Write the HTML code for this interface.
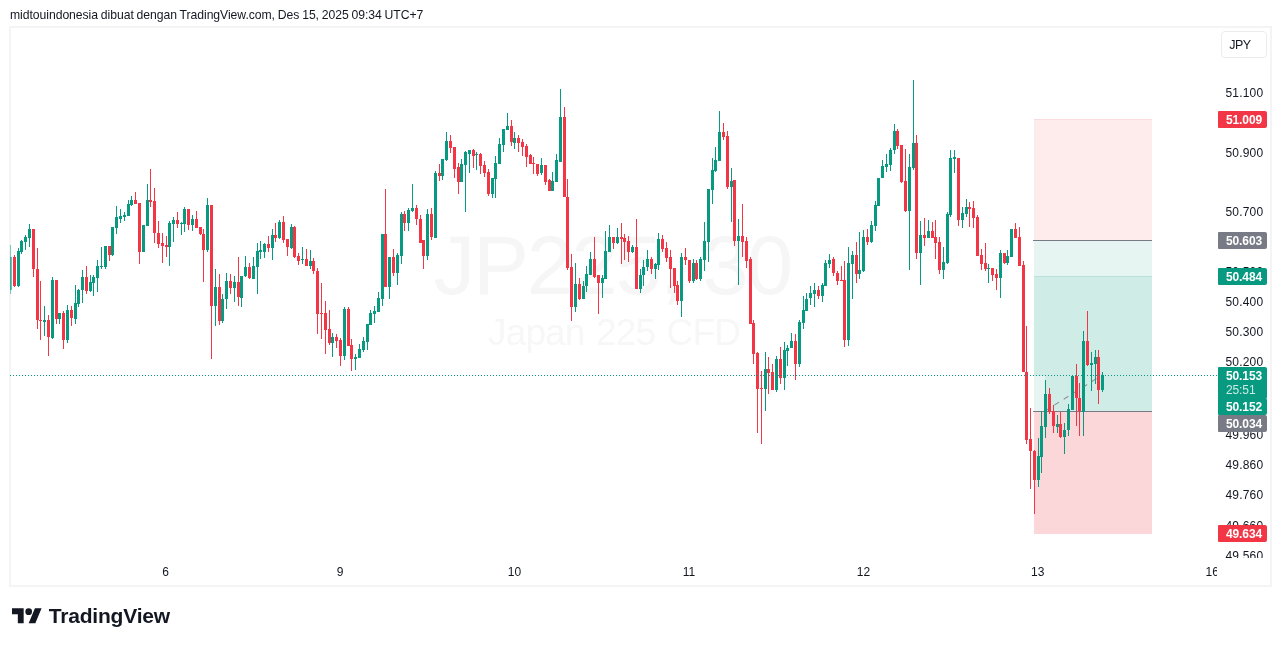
<!DOCTYPE html>
<html><head><meta charset="utf-8"><title>JP225 chart</title>
<style>
html,body{margin:0;padding:0;background:#fff;}
body{width:1281px;height:646px;position:relative;overflow:hidden;font-family:"Liberation Sans",sans-serif;color:#131722;}
.hdr{position:absolute;left:10px;top:7.1px;font-size:12.2px;line-height:16px;white-space:nowrap;color:#131722;letter-spacing:-0.05px;word-spacing:-0.5px;}
.frame{position:absolute;left:9px;top:26px;width:1263px;height:561px;box-sizing:border-box;border:2px solid #f4f4f4;}
.wm1{position:absolute;left:433.5px;top:218.2px;font-size:83.5px;line-height:94px;color:#f6f6f6;white-space:nowrap;letter-spacing:-2.05px;}
.wm2{position:absolute;left:488px;top:312.3px;font-size:37px;line-height:42px;color:#f7f7f7;white-space:nowrap;letter-spacing:-0.85px;word-spacing:2px;}
#root{position:absolute;left:0;top:0;width:1281px;height:646px;will-change:transform;}
svg.ch{position:absolute;left:0;top:0;}
.axis{position:absolute;left:1217px;top:28px;width:53px;height:530px;overflow:hidden;}
.pl{position:absolute;left:8.4px;width:53px;text-align:left;letter-spacing:0.2px;font-size:12px;line-height:16px;height:16px;color:#131722;white-space:nowrap;}
.axis .pl{margin-top:-28px;}
.tag{position:absolute;left:1218px;width:49px;height:17px;border-radius:1px 2px 2px 1px;color:#fff;font-weight:bold;font-size:12px;line-height:17px;text-align:left;box-sizing:border-box;padding-top:1.3px;padding-left:8px;letter-spacing:-0.12px;overflow:hidden;white-space:nowrap;}
.taxis{position:absolute;left:11px;top:558px;width:1206px;height:27px;overflow:hidden;}
.tl{position:absolute;top:6px;width:40px;margin-left:-11px;text-align:center;font-size:12px;line-height:16px;color:#131722;}
.jpy{position:absolute;left:1221px;top:31px;width:46px;height:27px;box-sizing:border-box;border:1px solid #ececec;border-radius:4px;font-size:12.5px;line-height:27px;text-align:center;color:#131722;padding-right:8px;letter-spacing:-0.5px;}
.logo{position:absolute;left:12px;top:604.67px;}
.tv{position:absolute;left:48.8px;top:603.6px;font-size:21px;line-height:24px;font-weight:bold;color:#131722;white-space:nowrap;letter-spacing:-0.2px;}
</style></head><body><div id="root">
<div class="hdr">midtouindonesia dibuat dengan TradingView.com, Des 15, 2025 09:34 UTC+7</div>
<div class="frame"></div>
<div class="wm1">JP225, 30</div>
<div class="wm2">Japan 225 CFD</div>
<div class="axis">
<div class="pl" style="top:85.1px">51.100</div>
<div class="pl" style="top:144.5px">50.900</div>
<div class="pl" style="top:204.0px">50.700</div>
<div class="pl" style="top:263.9px">50.500</div>
<div class="pl" style="top:293.9px">50.400</div>
<div class="pl" style="top:323.9px">50.300</div>
<div class="pl" style="top:354.0px">50.200</div>
<div class="pl" style="top:426.6px">49.960</div>
<div class="pl" style="top:456.9px">49.860</div>
<div class="pl" style="top:487.3px">49.760</div>
<div class="pl" style="top:517.7px">49.660</div>
<div class="pl" style="top:548.2px">49.560</div>
</div>
<svg class="ch" width="1281" height="646" viewBox="0 0 1281 646" shape-rendering="crispEdges">
<rect x="1034" y="119" width="118" height="121" fill="#feebec"/>
<rect x="1034" y="240" width="118" height="36" fill="#e6f5f2"/>
<rect x="1034" y="276" width="118" height="135" fill="#d0ece7"/>
<rect x="1034" y="376" width="11" height="35" fill="#e6f5f2"/>
<rect x="1034" y="411" width="118" height="123" fill="#fcd7da"/>
<rect x="1034" y="276" width="118" height="1" fill="#b9e2da"/>
<rect x="1034" y="119" width="118" height="1" fill="#fbdcdf"/>
<rect x="1033" y="240" width="119" height="1" fill="#787b86"/>
<rect x="1033" y="411" width="119" height="1" fill="#787b86"/>
<line x1="1045.5" y1="410.7" x2="1102.5" y2="374.8" stroke="#8f929c" stroke-width="1.1" stroke-dasharray="5.55 5.55" stroke-dashoffset="0.7" shape-rendering="auto"/>
<rect x="10" y="245" width="1" height="49" fill="#089981" opacity="0.5"/>
<rect x="10" y="257" width="2" height="33" fill="#089981" opacity="0.6"/>
<rect x="14" y="255" width="1" height="32" fill="#f23645"/>
<rect x="13" y="257" width="3" height="29" fill="#f23645"/>
<rect x="18" y="248" width="1" height="39" fill="#089981"/>
<rect x="17" y="251" width="3" height="35" fill="#089981"/>
<rect x="21" y="240" width="1" height="14" fill="#089981"/>
<rect x="20" y="241" width="3" height="11" fill="#089981"/>
<rect x="25" y="235" width="1" height="15" fill="#089981"/>
<rect x="24" y="237" width="3" height="5" fill="#089981"/>
<rect x="29" y="224" width="1" height="23" fill="#089981"/>
<rect x="28" y="229" width="3" height="9" fill="#089981"/>
<rect x="33" y="229" width="1" height="48" fill="#f23645"/>
<rect x="32" y="229" width="3" height="40" fill="#f23645"/>
<rect x="37" y="248" width="1" height="81" fill="#f23645"/>
<rect x="36" y="269" width="3" height="51" fill="#f23645"/>
<rect x="40" y="281" width="1" height="59" fill="#f23645"/>
<rect x="39" y="320" width="3" height="1" fill="#f23645"/>
<rect x="44" y="306" width="1" height="30" fill="#089981"/>
<rect x="43" y="320" width="3" height="2" fill="#089981"/>
<rect x="48" y="315" width="1" height="41" fill="#f23645"/>
<rect x="47" y="320" width="3" height="17" fill="#f23645"/>
<rect x="52" y="277" width="1" height="62" fill="#089981"/>
<rect x="51" y="280" width="3" height="58" fill="#089981"/>
<rect x="56" y="280" width="1" height="44" fill="#f23645"/>
<rect x="55" y="280" width="3" height="39" fill="#f23645"/>
<rect x="59" y="313" width="1" height="11" fill="#089981"/>
<rect x="58" y="313" width="3" height="6" fill="#089981"/>
<rect x="63" y="311" width="1" height="38" fill="#f23645"/>
<rect x="62" y="313" width="3" height="27" fill="#f23645"/>
<rect x="67" y="305" width="1" height="38" fill="#089981"/>
<rect x="66" y="310" width="3" height="30" fill="#089981"/>
<rect x="71" y="306" width="1" height="20" fill="#f23645"/>
<rect x="70" y="310" width="3" height="8" fill="#f23645"/>
<rect x="75" y="285" width="1" height="39" fill="#089981"/>
<rect x="74" y="303" width="3" height="16" fill="#089981"/>
<rect x="78" y="289" width="1" height="18" fill="#089981"/>
<rect x="77" y="290" width="3" height="14" fill="#089981"/>
<rect x="82" y="270" width="1" height="33" fill="#089981"/>
<rect x="81" y="277" width="3" height="13" fill="#089981"/>
<rect x="86" y="266" width="1" height="28" fill="#f23645"/>
<rect x="85" y="277" width="3" height="14" fill="#f23645"/>
<rect x="90" y="275" width="1" height="17" fill="#089981"/>
<rect x="89" y="282" width="3" height="9" fill="#089981"/>
<rect x="93" y="275" width="1" height="21" fill="#089981"/>
<rect x="92" y="277" width="3" height="6" fill="#089981"/>
<rect x="97" y="260" width="1" height="32" fill="#089981"/>
<rect x="96" y="266" width="3" height="12" fill="#089981"/>
<rect x="101" y="247" width="1" height="22" fill="#089981"/>
<rect x="100" y="266" width="3" height="1" fill="#089981"/>
<rect x="105" y="246" width="1" height="23" fill="#089981"/>
<rect x="104" y="246" width="3" height="21" fill="#089981"/>
<rect x="109" y="246" width="1" height="15" fill="#f23645"/>
<rect x="108" y="246" width="3" height="9" fill="#f23645"/>
<rect x="112" y="227" width="1" height="29" fill="#089981"/>
<rect x="111" y="227" width="3" height="28" fill="#089981"/>
<rect x="116" y="206" width="1" height="28" fill="#089981"/>
<rect x="115" y="217" width="3" height="11" fill="#089981"/>
<rect x="120" y="209" width="1" height="14" fill="#089981"/>
<rect x="119" y="216" width="3" height="3" fill="#089981"/>
<rect x="124" y="212" width="1" height="9" fill="#089981"/>
<rect x="123" y="215" width="3" height="2" fill="#089981"/>
<rect x="128" y="200" width="1" height="16" fill="#089981"/>
<rect x="127" y="204" width="3" height="12" fill="#089981"/>
<rect x="131" y="196" width="1" height="10" fill="#089981"/>
<rect x="130" y="200" width="3" height="5" fill="#089981"/>
<rect x="135" y="192" width="1" height="12" fill="#f23645"/>
<rect x="134" y="200" width="3" height="4" fill="#f23645"/>
<rect x="139" y="203" width="1" height="61" fill="#f23645"/>
<rect x="138" y="203" width="3" height="49" fill="#f23645"/>
<rect x="142" y="225" width="3" height="27" fill="#089981"/>
<rect x="147" y="184" width="1" height="42" fill="#089981"/>
<rect x="146" y="200" width="3" height="26" fill="#089981"/>
<rect x="150" y="169" width="1" height="38" fill="#f23645"/>
<rect x="149" y="200" width="3" height="2" fill="#f23645"/>
<rect x="154" y="188" width="1" height="55" fill="#f23645"/>
<rect x="153" y="201" width="3" height="32" fill="#f23645"/>
<rect x="158" y="221" width="1" height="27" fill="#f23645"/>
<rect x="157" y="233" width="3" height="11" fill="#f23645"/>
<rect x="162" y="233" width="1" height="30" fill="#f23645"/>
<rect x="161" y="243" width="3" height="3" fill="#f23645"/>
<rect x="166" y="236" width="1" height="21" fill="#f23645"/>
<rect x="165" y="245" width="3" height="2" fill="#f23645"/>
<rect x="169" y="221" width="1" height="45" fill="#089981"/>
<rect x="168" y="223" width="3" height="24" fill="#089981"/>
<rect x="173" y="217" width="1" height="25" fill="#089981"/>
<rect x="172" y="220" width="3" height="4" fill="#089981"/>
<rect x="177" y="212" width="1" height="16" fill="#f23645"/>
<rect x="176" y="220" width="3" height="4" fill="#f23645"/>
<rect x="181" y="222" width="1" height="13" fill="#089981"/>
<rect x="180" y="223" width="3" height="1" fill="#089981"/>
<rect x="184" y="207" width="1" height="25" fill="#089981"/>
<rect x="183" y="209" width="3" height="15" fill="#089981"/>
<rect x="188" y="209" width="1" height="21" fill="#f23645"/>
<rect x="187" y="209" width="3" height="16" fill="#f23645"/>
<rect x="192" y="215" width="1" height="16" fill="#089981"/>
<rect x="191" y="219" width="3" height="6" fill="#089981"/>
<rect x="196" y="211" width="1" height="17" fill="#f23645"/>
<rect x="195" y="219" width="3" height="9" fill="#f23645"/>
<rect x="200" y="227" width="1" height="8" fill="#f23645"/>
<rect x="199" y="227" width="3" height="7" fill="#f23645"/>
<rect x="203" y="229" width="1" height="53" fill="#f23645"/>
<rect x="202" y="234" width="3" height="16" fill="#f23645"/>
<rect x="207" y="198" width="1" height="54" fill="#089981"/>
<rect x="206" y="205" width="3" height="45" fill="#089981"/>
<rect x="211" y="205" width="1" height="154" fill="#f23645"/>
<rect x="210" y="205" width="3" height="101" fill="#f23645"/>
<rect x="215" y="269" width="1" height="57" fill="#089981"/>
<rect x="214" y="287" width="3" height="19" fill="#089981"/>
<rect x="219" y="274" width="1" height="51" fill="#f23645"/>
<rect x="218" y="287" width="3" height="34" fill="#f23645"/>
<rect x="222" y="294" width="1" height="29" fill="#089981"/>
<rect x="221" y="299" width="3" height="22" fill="#089981"/>
<rect x="226" y="273" width="1" height="36" fill="#089981"/>
<rect x="225" y="281" width="3" height="18" fill="#089981"/>
<rect x="230" y="274" width="1" height="20" fill="#f23645"/>
<rect x="229" y="281" width="3" height="7" fill="#f23645"/>
<rect x="234" y="276" width="1" height="26" fill="#089981"/>
<rect x="233" y="282" width="3" height="6" fill="#089981"/>
<rect x="238" y="257" width="1" height="49" fill="#f23645"/>
<rect x="237" y="282" width="3" height="15" fill="#f23645"/>
<rect x="241" y="276" width="1" height="31" fill="#089981"/>
<rect x="240" y="276" width="3" height="22" fill="#089981"/>
<rect x="245" y="256" width="1" height="21" fill="#089981"/>
<rect x="244" y="267" width="3" height="9" fill="#089981"/>
<rect x="249" y="263" width="1" height="16" fill="#f23645"/>
<rect x="248" y="267" width="3" height="11" fill="#f23645"/>
<rect x="253" y="257" width="1" height="22" fill="#089981"/>
<rect x="252" y="266" width="3" height="13" fill="#089981"/>
<rect x="257" y="243" width="1" height="51" fill="#089981"/>
<rect x="256" y="251" width="3" height="16" fill="#089981"/>
<rect x="260" y="241" width="1" height="18" fill="#089981"/>
<rect x="259" y="250" width="3" height="2" fill="#089981"/>
<rect x="264" y="243" width="1" height="15" fill="#089981"/>
<rect x="263" y="244" width="3" height="8" fill="#089981"/>
<rect x="268" y="236" width="1" height="16" fill="#f23645"/>
<rect x="267" y="244" width="3" height="4" fill="#f23645"/>
<rect x="272" y="229" width="1" height="31" fill="#089981"/>
<rect x="271" y="235" width="3" height="13" fill="#089981"/>
<rect x="275" y="223" width="1" height="19" fill="#f23645"/>
<rect x="274" y="235" width="3" height="3" fill="#f23645"/>
<rect x="279" y="220" width="1" height="19" fill="#089981"/>
<rect x="278" y="222" width="3" height="16" fill="#089981"/>
<rect x="283" y="216" width="1" height="27" fill="#f23645"/>
<rect x="282" y="222" width="3" height="18" fill="#f23645"/>
<rect x="287" y="239" width="1" height="17" fill="#f23645"/>
<rect x="286" y="239" width="3" height="8" fill="#f23645"/>
<rect x="291" y="224" width="1" height="25" fill="#089981"/>
<rect x="290" y="227" width="3" height="21" fill="#089981"/>
<rect x="294" y="226" width="1" height="32" fill="#f23645"/>
<rect x="293" y="227" width="3" height="30" fill="#f23645"/>
<rect x="298" y="253" width="1" height="12" fill="#f23645"/>
<rect x="297" y="256" width="3" height="5" fill="#f23645"/>
<rect x="302" y="247" width="1" height="17" fill="#089981"/>
<rect x="301" y="259" width="3" height="1" fill="#089981"/>
<rect x="306" y="249" width="1" height="17" fill="#f23645"/>
<rect x="305" y="259" width="3" height="7" fill="#f23645"/>
<rect x="310" y="250" width="1" height="19" fill="#089981"/>
<rect x="309" y="261" width="3" height="5" fill="#089981"/>
<rect x="313" y="258" width="1" height="16" fill="#f23645"/>
<rect x="312" y="261" width="3" height="10" fill="#f23645"/>
<rect x="317" y="268" width="1" height="66" fill="#f23645"/>
<rect x="316" y="271" width="3" height="43" fill="#f23645"/>
<rect x="321" y="283" width="1" height="56" fill="#f23645"/>
<rect x="320" y="313" width="3" height="1" fill="#f23645"/>
<rect x="325" y="301" width="1" height="53" fill="#f23645"/>
<rect x="324" y="313" width="3" height="17" fill="#f23645"/>
<rect x="329" y="310" width="1" height="35" fill="#f23645"/>
<rect x="328" y="329" width="3" height="14" fill="#f23645"/>
<rect x="332" y="333" width="1" height="24" fill="#089981"/>
<rect x="331" y="337" width="3" height="6" fill="#089981"/>
<rect x="336" y="334" width="1" height="14" fill="#f23645"/>
<rect x="335" y="337" width="3" height="4" fill="#f23645"/>
<rect x="340" y="338" width="1" height="28" fill="#f23645"/>
<rect x="339" y="340" width="3" height="16" fill="#f23645"/>
<rect x="344" y="307" width="1" height="53" fill="#089981"/>
<rect x="343" y="309" width="3" height="47" fill="#089981"/>
<rect x="348" y="307" width="1" height="39" fill="#f23645"/>
<rect x="347" y="309" width="3" height="37" fill="#f23645"/>
<rect x="351" y="339" width="1" height="32" fill="#f23645"/>
<rect x="350" y="345" width="3" height="14" fill="#f23645"/>
<rect x="355" y="354" width="1" height="16" fill="#089981"/>
<rect x="354" y="357" width="3" height="2" fill="#089981"/>
<rect x="359" y="344" width="1" height="14" fill="#089981"/>
<rect x="358" y="349" width="3" height="9" fill="#089981"/>
<rect x="363" y="337" width="1" height="15" fill="#089981"/>
<rect x="362" y="341" width="3" height="9" fill="#089981"/>
<rect x="367" y="324" width="1" height="26" fill="#089981"/>
<rect x="366" y="324" width="3" height="18" fill="#089981"/>
<rect x="370" y="310" width="1" height="15" fill="#089981"/>
<rect x="369" y="313" width="3" height="12" fill="#089981"/>
<rect x="374" y="306" width="1" height="17" fill="#089981"/>
<rect x="373" y="311" width="3" height="3" fill="#089981"/>
<rect x="378" y="292" width="1" height="20" fill="#089981"/>
<rect x="377" y="298" width="3" height="14" fill="#089981"/>
<rect x="382" y="234" width="1" height="72" fill="#089981"/>
<rect x="381" y="234" width="3" height="65" fill="#089981"/>
<rect x="385" y="189" width="1" height="98" fill="#f23645"/>
<rect x="384" y="234" width="3" height="53" fill="#f23645"/>
<rect x="389" y="257" width="1" height="42" fill="#089981"/>
<rect x="388" y="257" width="3" height="30" fill="#089981"/>
<rect x="393" y="249" width="1" height="27" fill="#f23645"/>
<rect x="392" y="257" width="3" height="16" fill="#f23645"/>
<rect x="397" y="253" width="1" height="32" fill="#089981"/>
<rect x="396" y="255" width="3" height="18" fill="#089981"/>
<rect x="401" y="212" width="1" height="52" fill="#089981"/>
<rect x="400" y="214" width="3" height="42" fill="#089981"/>
<rect x="404" y="211" width="1" height="20" fill="#f23645"/>
<rect x="403" y="214" width="3" height="9" fill="#f23645"/>
<rect x="408" y="208" width="1" height="23" fill="#089981"/>
<rect x="407" y="210" width="3" height="13" fill="#089981"/>
<rect x="412" y="184" width="1" height="28" fill="#089981"/>
<rect x="411" y="208" width="3" height="3" fill="#089981"/>
<rect x="416" y="205" width="1" height="20" fill="#f23645"/>
<rect x="415" y="208" width="3" height="11" fill="#f23645"/>
<rect x="420" y="215" width="1" height="28" fill="#f23645"/>
<rect x="419" y="219" width="3" height="24" fill="#f23645"/>
<rect x="423" y="240" width="1" height="29" fill="#f23645"/>
<rect x="422" y="240" width="3" height="16" fill="#f23645"/>
<rect x="427" y="209" width="1" height="51" fill="#089981"/>
<rect x="426" y="214" width="3" height="42" fill="#089981"/>
<rect x="431" y="208" width="1" height="32" fill="#f23645"/>
<rect x="430" y="214" width="3" height="23" fill="#f23645"/>
<rect x="435" y="171" width="1" height="67" fill="#089981"/>
<rect x="434" y="173" width="3" height="65" fill="#089981"/>
<rect x="439" y="164" width="1" height="17" fill="#f23645"/>
<rect x="438" y="173" width="3" height="3" fill="#f23645"/>
<rect x="442" y="159" width="1" height="21" fill="#089981"/>
<rect x="441" y="159" width="3" height="17" fill="#089981"/>
<rect x="446" y="132" width="1" height="29" fill="#089981"/>
<rect x="445" y="141" width="3" height="19" fill="#089981"/>
<rect x="450" y="135" width="1" height="18" fill="#f23645"/>
<rect x="449" y="141" width="3" height="7" fill="#f23645"/>
<rect x="454" y="147" width="1" height="31" fill="#f23645"/>
<rect x="453" y="147" width="3" height="22" fill="#f23645"/>
<rect x="458" y="163" width="1" height="31" fill="#f23645"/>
<rect x="457" y="167" width="3" height="15" fill="#f23645"/>
<rect x="461" y="159" width="1" height="23" fill="#089981"/>
<rect x="460" y="164" width="3" height="18" fill="#089981"/>
<rect x="465" y="151" width="1" height="61" fill="#089981"/>
<rect x="464" y="152" width="3" height="13" fill="#089981"/>
<rect x="469" y="150" width="1" height="23" fill="#089981"/>
<rect x="468" y="150" width="3" height="4" fill="#089981"/>
<rect x="473" y="149" width="1" height="19" fill="#f23645"/>
<rect x="472" y="150" width="3" height="6" fill="#f23645"/>
<rect x="476" y="152" width="1" height="18" fill="#089981"/>
<rect x="475" y="154" width="3" height="1" fill="#089981"/>
<rect x="480" y="153" width="1" height="21" fill="#f23645"/>
<rect x="479" y="154" width="3" height="12" fill="#f23645"/>
<rect x="484" y="161" width="1" height="16" fill="#f23645"/>
<rect x="483" y="165" width="3" height="8" fill="#f23645"/>
<rect x="488" y="169" width="1" height="27" fill="#f23645"/>
<rect x="487" y="172" width="3" height="22" fill="#f23645"/>
<rect x="492" y="178" width="1" height="20" fill="#089981"/>
<rect x="491" y="178" width="3" height="16" fill="#089981"/>
<rect x="495" y="156" width="1" height="42" fill="#089981"/>
<rect x="494" y="163" width="3" height="16" fill="#089981"/>
<rect x="499" y="138" width="1" height="26" fill="#089981"/>
<rect x="498" y="144" width="3" height="20" fill="#089981"/>
<rect x="503" y="129" width="1" height="23" fill="#089981"/>
<rect x="502" y="129" width="3" height="16" fill="#089981"/>
<rect x="507" y="113" width="1" height="17" fill="#089981"/>
<rect x="506" y="126" width="3" height="4" fill="#089981"/>
<rect x="511" y="120" width="1" height="26" fill="#f23645"/>
<rect x="510" y="126" width="3" height="16" fill="#f23645"/>
<rect x="514" y="132" width="1" height="17" fill="#089981"/>
<rect x="513" y="138" width="3" height="5" fill="#089981"/>
<rect x="518" y="135" width="1" height="17" fill="#f23645"/>
<rect x="517" y="138" width="3" height="5" fill="#f23645"/>
<rect x="522" y="139" width="1" height="17" fill="#f23645"/>
<rect x="521" y="142" width="3" height="5" fill="#f23645"/>
<rect x="526" y="144" width="1" height="23" fill="#f23645"/>
<rect x="525" y="146" width="3" height="11" fill="#f23645"/>
<rect x="530" y="154" width="1" height="10" fill="#f23645"/>
<rect x="529" y="155" width="3" height="9" fill="#f23645"/>
<rect x="533" y="157" width="1" height="17" fill="#f23645"/>
<rect x="532" y="163" width="3" height="1" fill="#f23645"/>
<rect x="537" y="164" width="1" height="12" fill="#f23645"/>
<rect x="536" y="164" width="3" height="10" fill="#f23645"/>
<rect x="541" y="158" width="1" height="17" fill="#089981"/>
<rect x="540" y="165" width="3" height="8" fill="#089981"/>
<rect x="545" y="165" width="1" height="20" fill="#f23645"/>
<rect x="544" y="165" width="3" height="17" fill="#f23645"/>
<rect x="549" y="179" width="1" height="12" fill="#f23645"/>
<rect x="548" y="180" width="3" height="11" fill="#f23645"/>
<rect x="552" y="172" width="1" height="19" fill="#089981"/>
<rect x="551" y="181" width="3" height="10" fill="#089981"/>
<rect x="556" y="154" width="1" height="28" fill="#089981"/>
<rect x="555" y="160" width="3" height="22" fill="#089981"/>
<rect x="560" y="89" width="1" height="73" fill="#089981"/>
<rect x="559" y="117" width="3" height="45" fill="#089981"/>
<rect x="564" y="107" width="1" height="90" fill="#f23645"/>
<rect x="563" y="117" width="3" height="80" fill="#f23645"/>
<rect x="567" y="179" width="1" height="91" fill="#f23645"/>
<rect x="566" y="197" width="3" height="71" fill="#f23645"/>
<rect x="571" y="254" width="1" height="67" fill="#f23645"/>
<rect x="570" y="267" width="3" height="40" fill="#f23645"/>
<rect x="575" y="263" width="1" height="49" fill="#089981"/>
<rect x="574" y="284" width="3" height="23" fill="#089981"/>
<rect x="579" y="278" width="1" height="22" fill="#f23645"/>
<rect x="578" y="284" width="3" height="15" fill="#f23645"/>
<rect x="583" y="281" width="1" height="18" fill="#089981"/>
<rect x="582" y="286" width="3" height="13" fill="#089981"/>
<rect x="586" y="266" width="1" height="26" fill="#089981"/>
<rect x="585" y="274" width="3" height="12" fill="#089981"/>
<rect x="590" y="252" width="1" height="23" fill="#089981"/>
<rect x="589" y="259" width="3" height="16" fill="#089981"/>
<rect x="594" y="237" width="1" height="41" fill="#f23645"/>
<rect x="593" y="259" width="3" height="18" fill="#f23645"/>
<rect x="598" y="275" width="1" height="39" fill="#f23645"/>
<rect x="597" y="275" width="3" height="8" fill="#f23645"/>
<rect x="602" y="275" width="1" height="23" fill="#089981"/>
<rect x="601" y="278" width="3" height="5" fill="#089981"/>
<rect x="605" y="231" width="1" height="48" fill="#089981"/>
<rect x="604" y="251" width="3" height="28" fill="#089981"/>
<rect x="609" y="225" width="1" height="27" fill="#089981"/>
<rect x="608" y="237" width="3" height="15" fill="#089981"/>
<rect x="613" y="237" width="1" height="12" fill="#f23645"/>
<rect x="612" y="237" width="3" height="6" fill="#f23645"/>
<rect x="617" y="228" width="1" height="16" fill="#089981"/>
<rect x="616" y="237" width="3" height="6" fill="#089981"/>
<rect x="621" y="223" width="1" height="41" fill="#f23645"/>
<rect x="620" y="237" width="3" height="2" fill="#f23645"/>
<rect x="624" y="234" width="1" height="26" fill="#f23645"/>
<rect x="623" y="238" width="3" height="4" fill="#f23645"/>
<rect x="628" y="236" width="1" height="26" fill="#f23645"/>
<rect x="627" y="241" width="3" height="11" fill="#f23645"/>
<rect x="632" y="245" width="1" height="8" fill="#089981"/>
<rect x="631" y="247" width="3" height="5" fill="#089981"/>
<rect x="636" y="219" width="1" height="70" fill="#f23645"/>
<rect x="635" y="247" width="3" height="42" fill="#f23645"/>
<rect x="640" y="269" width="1" height="24" fill="#089981"/>
<rect x="639" y="275" width="3" height="14" fill="#089981"/>
<rect x="643" y="260" width="1" height="26" fill="#089981"/>
<rect x="642" y="267" width="3" height="8" fill="#089981"/>
<rect x="647" y="250" width="1" height="21" fill="#089981"/>
<rect x="646" y="259" width="3" height="8" fill="#089981"/>
<rect x="651" y="257" width="1" height="17" fill="#f23645"/>
<rect x="650" y="259" width="3" height="10" fill="#f23645"/>
<rect x="655" y="263" width="1" height="16" fill="#089981"/>
<rect x="654" y="264" width="3" height="5" fill="#089981"/>
<rect x="658" y="233" width="1" height="37" fill="#089981"/>
<rect x="657" y="239" width="3" height="26" fill="#089981"/>
<rect x="662" y="235" width="1" height="17" fill="#f23645"/>
<rect x="661" y="239" width="3" height="10" fill="#f23645"/>
<rect x="666" y="242" width="1" height="20" fill="#f23645"/>
<rect x="665" y="248" width="3" height="10" fill="#f23645"/>
<rect x="670" y="250" width="1" height="38" fill="#f23645"/>
<rect x="669" y="257" width="3" height="12" fill="#f23645"/>
<rect x="674" y="268" width="1" height="25" fill="#f23645"/>
<rect x="673" y="268" width="3" height="18" fill="#f23645"/>
<rect x="677" y="281" width="1" height="24" fill="#f23645"/>
<rect x="676" y="285" width="3" height="16" fill="#f23645"/>
<rect x="681" y="253" width="1" height="64" fill="#089981"/>
<rect x="680" y="257" width="3" height="44" fill="#089981"/>
<rect x="685" y="248" width="1" height="17" fill="#f23645"/>
<rect x="684" y="257" width="3" height="3" fill="#f23645"/>
<rect x="689" y="260" width="1" height="23" fill="#f23645"/>
<rect x="688" y="260" width="3" height="21" fill="#f23645"/>
<rect x="693" y="259" width="1" height="24" fill="#089981"/>
<rect x="692" y="263" width="3" height="18" fill="#089981"/>
<rect x="696" y="260" width="1" height="20" fill="#f23645"/>
<rect x="695" y="263" width="3" height="16" fill="#f23645"/>
<rect x="700" y="257" width="1" height="24" fill="#089981"/>
<rect x="699" y="259" width="3" height="20" fill="#089981"/>
<rect x="704" y="222" width="1" height="49" fill="#089981"/>
<rect x="703" y="241" width="3" height="19" fill="#089981"/>
<rect x="708" y="189" width="1" height="73" fill="#089981"/>
<rect x="707" y="189" width="3" height="53" fill="#089981"/>
<rect x="712" y="158" width="1" height="46" fill="#089981"/>
<rect x="711" y="170" width="3" height="20" fill="#089981"/>
<rect x="715" y="147" width="1" height="25" fill="#089981"/>
<rect x="714" y="160" width="3" height="11" fill="#089981"/>
<rect x="719" y="111" width="1" height="50" fill="#089981"/>
<rect x="718" y="132" width="3" height="29" fill="#089981"/>
<rect x="723" y="123" width="1" height="17" fill="#f23645"/>
<rect x="722" y="132" width="3" height="5" fill="#f23645"/>
<rect x="727" y="131" width="1" height="58" fill="#f23645"/>
<rect x="726" y="136" width="3" height="51" fill="#f23645"/>
<rect x="731" y="168" width="1" height="54" fill="#089981"/>
<rect x="730" y="181" width="3" height="6" fill="#089981"/>
<rect x="734" y="180" width="1" height="66" fill="#f23645"/>
<rect x="733" y="180" width="3" height="61" fill="#f23645"/>
<rect x="738" y="219" width="1" height="66" fill="#089981"/>
<rect x="737" y="236" width="3" height="5" fill="#089981"/>
<rect x="742" y="204" width="1" height="53" fill="#f23645"/>
<rect x="741" y="236" width="3" height="6" fill="#f23645"/>
<rect x="746" y="237" width="1" height="31" fill="#f23645"/>
<rect x="745" y="241" width="3" height="20" fill="#f23645"/>
<rect x="750" y="257" width="1" height="67" fill="#f23645"/>
<rect x="749" y="259" width="3" height="65" fill="#f23645"/>
<rect x="753" y="320" width="1" height="44" fill="#f23645"/>
<rect x="752" y="323" width="3" height="31" fill="#f23645"/>
<rect x="757" y="352" width="1" height="81" fill="#f23645"/>
<rect x="756" y="353" width="3" height="36" fill="#f23645"/>
<rect x="761" y="371" width="1" height="73" fill="#f23645"/>
<rect x="760" y="388" width="3" height="1" fill="#f23645"/>
<rect x="765" y="352" width="1" height="59" fill="#089981"/>
<rect x="764" y="369" width="3" height="20" fill="#089981"/>
<rect x="768" y="357" width="1" height="37" fill="#f23645"/>
<rect x="767" y="369" width="3" height="4" fill="#f23645"/>
<rect x="772" y="364" width="1" height="26" fill="#f23645"/>
<rect x="771" y="372" width="3" height="18" fill="#f23645"/>
<rect x="776" y="356" width="1" height="36" fill="#089981"/>
<rect x="775" y="359" width="3" height="31" fill="#089981"/>
<rect x="780" y="347" width="1" height="37" fill="#f23645"/>
<rect x="779" y="359" width="3" height="19" fill="#f23645"/>
<rect x="784" y="342" width="1" height="48" fill="#089981"/>
<rect x="783" y="350" width="3" height="28" fill="#089981"/>
<rect x="787" y="345" width="1" height="21" fill="#089981"/>
<rect x="786" y="348" width="3" height="3" fill="#089981"/>
<rect x="791" y="333" width="1" height="15" fill="#089981"/>
<rect x="790" y="341" width="3" height="7" fill="#089981"/>
<rect x="795" y="334" width="1" height="46" fill="#f23645"/>
<rect x="794" y="341" width="3" height="23" fill="#f23645"/>
<rect x="799" y="320" width="1" height="47" fill="#089981"/>
<rect x="798" y="322" width="3" height="42" fill="#089981"/>
<rect x="803" y="296" width="1" height="33" fill="#089981"/>
<rect x="802" y="310" width="3" height="13" fill="#089981"/>
<rect x="806" y="293" width="1" height="18" fill="#089981"/>
<rect x="805" y="299" width="3" height="12" fill="#089981"/>
<rect x="810" y="286" width="1" height="19" fill="#089981"/>
<rect x="809" y="293" width="3" height="5" fill="#089981"/>
<rect x="814" y="283" width="1" height="24" fill="#089981"/>
<rect x="813" y="290" width="3" height="4" fill="#089981"/>
<rect x="818" y="286" width="1" height="13" fill="#f23645"/>
<rect x="817" y="290" width="3" height="6" fill="#f23645"/>
<rect x="822" y="283" width="1" height="19" fill="#089981"/>
<rect x="821" y="285" width="3" height="11" fill="#089981"/>
<rect x="825" y="260" width="1" height="26" fill="#089981"/>
<rect x="824" y="263" width="3" height="23" fill="#089981"/>
<rect x="829" y="254" width="1" height="14" fill="#089981"/>
<rect x="828" y="260" width="3" height="4" fill="#089981"/>
<rect x="833" y="257" width="1" height="19" fill="#f23645"/>
<rect x="832" y="259" width="3" height="14" fill="#f23645"/>
<rect x="837" y="271" width="1" height="14" fill="#f23645"/>
<rect x="836" y="273" width="3" height="8" fill="#f23645"/>
<rect x="841" y="266" width="1" height="15" fill="#f23645"/>
<rect x="840" y="280" width="3" height="1" fill="#f23645"/>
<rect x="844" y="261" width="1" height="86" fill="#f23645"/>
<rect x="843" y="280" width="3" height="60" fill="#f23645"/>
<rect x="848" y="247" width="1" height="99" fill="#089981"/>
<rect x="847" y="263" width="3" height="77" fill="#089981"/>
<rect x="852" y="251" width="1" height="48" fill="#089981"/>
<rect x="851" y="255" width="3" height="9" fill="#089981"/>
<rect x="856" y="242" width="1" height="41" fill="#f23645"/>
<rect x="855" y="255" width="3" height="19" fill="#f23645"/>
<rect x="859" y="232" width="1" height="47" fill="#089981"/>
<rect x="858" y="270" width="3" height="4" fill="#089981"/>
<rect x="863" y="230" width="1" height="42" fill="#089981"/>
<rect x="862" y="237" width="3" height="34" fill="#089981"/>
<rect x="867" y="229" width="1" height="16" fill="#f23645"/>
<rect x="866" y="237" width="3" height="5" fill="#f23645"/>
<rect x="871" y="221" width="1" height="22" fill="#089981"/>
<rect x="870" y="225" width="3" height="17" fill="#089981"/>
<rect x="875" y="201" width="1" height="30" fill="#089981"/>
<rect x="874" y="205" width="3" height="21" fill="#089981"/>
<rect x="877" y="178" width="3" height="28" fill="#089981"/>
<rect x="882" y="160" width="1" height="18" fill="#089981"/>
<rect x="881" y="166" width="3" height="12" fill="#089981"/>
<rect x="886" y="154" width="1" height="18" fill="#089981"/>
<rect x="885" y="164" width="3" height="3" fill="#089981"/>
<rect x="890" y="148" width="1" height="23" fill="#089981"/>
<rect x="889" y="150" width="3" height="15" fill="#089981"/>
<rect x="894" y="124" width="1" height="30" fill="#089981"/>
<rect x="893" y="131" width="3" height="19" fill="#089981"/>
<rect x="897" y="129" width="1" height="20" fill="#f23645"/>
<rect x="896" y="131" width="3" height="15" fill="#f23645"/>
<rect x="901" y="145" width="1" height="38" fill="#f23645"/>
<rect x="900" y="145" width="3" height="37" fill="#f23645"/>
<rect x="905" y="149" width="1" height="63" fill="#f23645"/>
<rect x="904" y="181" width="3" height="30" fill="#f23645"/>
<rect x="909" y="154" width="1" height="116" fill="#089981"/>
<rect x="908" y="167" width="3" height="44" fill="#089981"/>
<rect x="913" y="80" width="1" height="90" fill="#089981"/>
<rect x="912" y="143" width="3" height="25" fill="#089981"/>
<rect x="916" y="135" width="1" height="124" fill="#f23645"/>
<rect x="915" y="143" width="3" height="110" fill="#f23645"/>
<rect x="920" y="221" width="1" height="64" fill="#089981"/>
<rect x="919" y="235" width="3" height="18" fill="#089981"/>
<rect x="924" y="218" width="1" height="28" fill="#f23645"/>
<rect x="923" y="235" width="3" height="3" fill="#f23645"/>
<rect x="928" y="220" width="1" height="18" fill="#089981"/>
<rect x="927" y="231" width="3" height="7" fill="#089981"/>
<rect x="932" y="222" width="1" height="16" fill="#f23645"/>
<rect x="931" y="231" width="3" height="7" fill="#f23645"/>
<rect x="935" y="220" width="1" height="39" fill="#f23645"/>
<rect x="934" y="237" width="3" height="6" fill="#f23645"/>
<rect x="939" y="237" width="1" height="37" fill="#f23645"/>
<rect x="938" y="242" width="3" height="28" fill="#f23645"/>
<rect x="943" y="247" width="1" height="32" fill="#089981"/>
<rect x="942" y="262" width="3" height="8" fill="#089981"/>
<rect x="947" y="212" width="1" height="52" fill="#089981"/>
<rect x="946" y="214" width="3" height="49" fill="#089981"/>
<rect x="950" y="150" width="1" height="67" fill="#089981"/>
<rect x="949" y="158" width="3" height="57" fill="#089981"/>
<rect x="954" y="150" width="1" height="23" fill="#089981"/>
<rect x="953" y="157" width="3" height="2" fill="#089981"/>
<rect x="958" y="158" width="1" height="68" fill="#f23645"/>
<rect x="957" y="158" width="3" height="62" fill="#f23645"/>
<rect x="962" y="207" width="1" height="21" fill="#089981"/>
<rect x="961" y="213" width="3" height="7" fill="#089981"/>
<rect x="966" y="199" width="1" height="18" fill="#089981"/>
<rect x="965" y="207" width="3" height="7" fill="#089981"/>
<rect x="969" y="202" width="1" height="25" fill="#f23645"/>
<rect x="968" y="207" width="3" height="2" fill="#f23645"/>
<rect x="973" y="201" width="1" height="27" fill="#f23645"/>
<rect x="972" y="208" width="3" height="10" fill="#f23645"/>
<rect x="977" y="215" width="1" height="41" fill="#f23645"/>
<rect x="976" y="217" width="3" height="39" fill="#f23645"/>
<rect x="981" y="249" width="1" height="21" fill="#f23645"/>
<rect x="980" y="255" width="3" height="9" fill="#f23645"/>
<rect x="985" y="243" width="1" height="28" fill="#f23645"/>
<rect x="984" y="263" width="3" height="6" fill="#f23645"/>
<rect x="988" y="264" width="1" height="19" fill="#089981"/>
<rect x="987" y="268" width="3" height="1" fill="#089981"/>
<rect x="992" y="268" width="1" height="13" fill="#f23645"/>
<rect x="991" y="268" width="3" height="7" fill="#f23645"/>
<rect x="996" y="269" width="1" height="21" fill="#f23645"/>
<rect x="995" y="274" width="3" height="4" fill="#f23645"/>
<rect x="1000" y="250" width="1" height="48" fill="#089981"/>
<rect x="999" y="253" width="3" height="25" fill="#089981"/>
<rect x="1004" y="253" width="1" height="11" fill="#f23645"/>
<rect x="1003" y="253" width="3" height="10" fill="#f23645"/>
<rect x="1007" y="250" width="1" height="15" fill="#089981"/>
<rect x="1006" y="256" width="3" height="7" fill="#089981"/>
<rect x="1010" y="229" width="3" height="28" fill="#089981"/>
<rect x="1015" y="223" width="1" height="15" fill="#f23645"/>
<rect x="1014" y="229" width="3" height="9" fill="#f23645"/>
<rect x="1019" y="227" width="1" height="39" fill="#f23645"/>
<rect x="1018" y="237" width="3" height="29" fill="#f23645"/>
<rect x="1023" y="261" width="1" height="111" fill="#f23645"/>
<rect x="1022" y="265" width="3" height="107" fill="#f23645"/>
<rect x="1026" y="326" width="1" height="118" fill="#f23645"/>
<rect x="1025" y="372" width="3" height="68" fill="#f23645"/>
<rect x="1030" y="408" width="1" height="81" fill="#f23645"/>
<rect x="1029" y="439" width="3" height="12" fill="#f23645"/>
<rect x="1034" y="450" width="1" height="64" fill="#f23645"/>
<rect x="1033" y="451" width="3" height="29" fill="#f23645"/>
<rect x="1038" y="438" width="1" height="49" fill="#089981"/>
<rect x="1037" y="456" width="3" height="24" fill="#089981"/>
<rect x="1041" y="411" width="1" height="62" fill="#089981"/>
<rect x="1040" y="426" width="3" height="31" fill="#089981"/>
<rect x="1045" y="380" width="1" height="58" fill="#089981"/>
<rect x="1044" y="394" width="3" height="33" fill="#089981"/>
<rect x="1049" y="388" width="1" height="26" fill="#f23645"/>
<rect x="1048" y="394" width="3" height="18" fill="#f23645"/>
<rect x="1053" y="405" width="1" height="28" fill="#f23645"/>
<rect x="1052" y="411" width="3" height="15" fill="#f23645"/>
<rect x="1057" y="415" width="1" height="18" fill="#089981"/>
<rect x="1056" y="424" width="3" height="3" fill="#089981"/>
<rect x="1060" y="412" width="1" height="26" fill="#f23645"/>
<rect x="1059" y="424" width="3" height="13" fill="#f23645"/>
<rect x="1064" y="423" width="1" height="31" fill="#089981"/>
<rect x="1063" y="430" width="3" height="7" fill="#089981"/>
<rect x="1068" y="404" width="1" height="32" fill="#089981"/>
<rect x="1067" y="409" width="3" height="21" fill="#089981"/>
<rect x="1071" y="376" width="3" height="34" fill="#089981"/>
<rect x="1076" y="364" width="1" height="62" fill="#f23645"/>
<rect x="1075" y="376" width="3" height="22" fill="#f23645"/>
<rect x="1079" y="383" width="1" height="53" fill="#f23645"/>
<rect x="1078" y="398" width="3" height="13" fill="#f23645"/>
<rect x="1083" y="331" width="1" height="105" fill="#089981"/>
<rect x="1082" y="341" width="3" height="71" fill="#089981"/>
<rect x="1087" y="311" width="1" height="55" fill="#f23645"/>
<rect x="1086" y="341" width="3" height="24" fill="#f23645"/>
<rect x="1091" y="352" width="1" height="39" fill="#089981"/>
<rect x="1090" y="363" width="3" height="2" fill="#089981"/>
<rect x="1095" y="350" width="1" height="34" fill="#089981"/>
<rect x="1094" y="357" width="3" height="7" fill="#089981"/>
<rect x="1098" y="350" width="1" height="54" fill="#f23645"/>
<rect x="1097" y="357" width="3" height="33" fill="#f23645"/>
<rect x="1102" y="372" width="1" height="20" fill="#089981"/>
<rect x="1101" y="375" width="3" height="15" fill="#089981"/>
<line x1="10" y1="375.5" x2="1217" y2="375.5" stroke="#089981" stroke-width="1" stroke-dasharray="1 2"/>
</svg>
<div class="tag" style="top:111px;background:#f23645">51.009</div>
<div class="tag" style="top:232px;background:#787b86">50.603</div>
<div class="tag" style="top:268px;background:#089981">50.484</div>
<div class="tag" style="top:367px;height:32px;background:#089981;line-height:17px">50.153<br><span style="font-weight:normal;opacity:.8;position:relative;top:-3px">25:51</span></div>
<div class="tag" style="top:398px;background:#089981">50.152</div>
<div class="tag" style="top:415px;background:#787b86">50.034</div>
<div class="tag" style="top:525px;background:#f23645">49.634</div>
<div class="taxis">
<div class="tl" style="left:145.6px">6</div>
<div class="tl" style="left:320.1px">9</div>
<div class="tl" style="left:494.5px">10</div>
<div class="tl" style="left:668.9px">11</div>
<div class="tl" style="left:843.4px">12</div>
<div class="tl" style="left:1017.8px">13</div>
<div class="tl" style="left:1192.2px">16</div>
</div>
<div class="jpy">JPY</div>
<svg class="logo" width="30" height="24" viewBox="0 0 36 28.8"><path fill="#131722" d="M14 22H7V11H0V4h14v18zM28 22h-8l7.5-18h8L28 22z"/><circle fill="#131722" cx="20" cy="8" r="4"/></svg>
<div class="tv">TradingView</div>
</div></body></html>
